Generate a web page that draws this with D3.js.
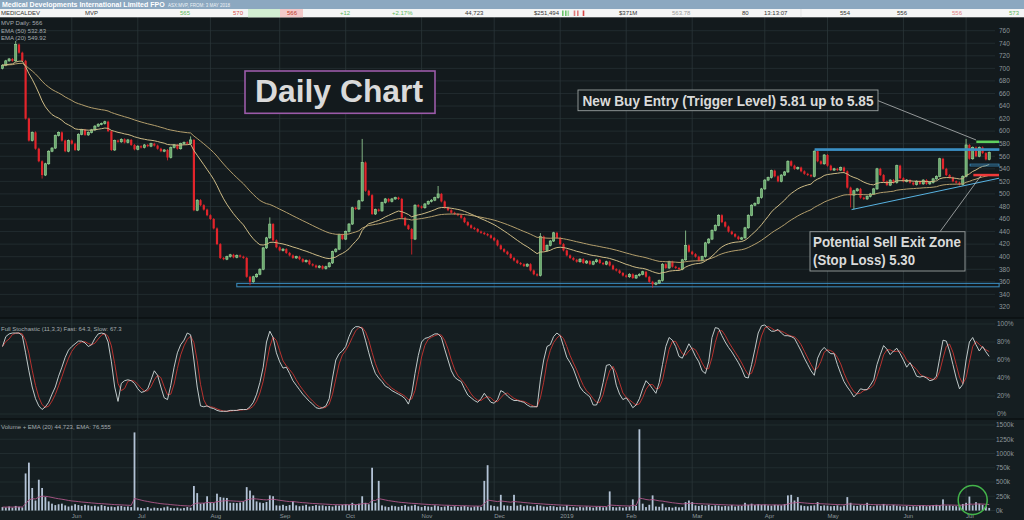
<!DOCTYPE html>
<html>
<head>
<meta charset="utf-8">
<script src="https://cdn.jsdelivr.net/npm/d3@7"></script>
<style>
  body { margin: 0; background: #131a1d; overflow: hidden; }
  svg { display: block; }
  text { font-family: "Liberation Sans", Arial, sans-serif; }
</style>
</head>
<body>
<div id="chart"></div>
<script>
// Daily closes (one per trading day, May 2018 - Jul 2019)
const closes = [
  705, 712, 715, 712, 738, 725, 712, 620, 585, 598,
  572, 552, 530, 548, 568, 573, 593, 598, 585, 568,
  585, 580, 570, 595, 602, 594, 598, 602, 608, 611,
  612, 615, 600, 570, 585, 583, 587, 582, 586, 578,
  571, 576, 574, 578, 576, 580, 577, 572, 568, 570,
  558, 574, 578, 572, 580, 582, 580, 586, 474, 490,
  482, 475, 466, 460, 445, 420, 398, 396, 400, 403,
  399, 402, 400, 398, 368, 360, 368, 372, 380, 414,
  430, 452, 426, 415, 410, 412, 406, 402, 398, 400,
  396, 392, 394, 388, 386, 383, 385, 381, 384, 390,
  408, 412, 435, 428, 440, 452, 478, 476, 489, 550,
  505, 498, 468, 475, 473, 486, 492, 488, 492, 494,
  492, 462, 450, 444, 428, 482, 480, 478, 484, 488,
  490, 494, 500, 488, 478, 474, 470, 468, 466, 462,
  455, 450, 446, 444, 440, 438, 436, 434, 430, 426,
  418, 412, 408, 404, 398, 394, 390, 388, 385, 388,
  378, 372, 370, 432, 410, 418, 425, 438, 430, 420,
  410, 402, 398, 395, 392, 396, 390, 393, 388, 392,
  395, 390, 388, 392, 386, 380, 378, 374, 370, 368,
  372, 366, 370, 372, 376, 368, 360, 356, 358, 362,
  388, 382, 392, 384, 382, 380, 395, 418, 408, 404,
  400, 394, 400, 422, 428, 442, 450, 466, 455, 448,
  440, 436, 432, 428, 430, 446, 466, 482, 485, 494,
  508, 522, 526, 537, 528, 520, 530, 535, 552, 545,
  540, 542, 536, 532, 530, 528, 568, 552, 548, 562,
  545, 538, 540, 538, 542, 536, 510, 498, 505, 508,
  494, 492, 496, 500, 508, 540, 530, 520, 514, 522,
  518, 545, 525, 520, 522, 518, 515, 520, 516, 522,
  516, 518, 524, 528, 556, 540, 530, 526, 520, 518,
  515, 528, 578, 556, 574, 560, 574, 565, 555, 566
];
const firstOpen = 700;
// long wicks visible on the chart: [day index, price]
const highWicks = [[4, 742], [57, 590], [81, 461], [109, 586], [132, 511], [163, 436], [207, 440], [292, 586]];
const lowWicks = [[12, 526], [50, 555], [75, 356], [124, 405], [197, 352], [257, 480], [258, 477]];

// Full stochastic (11,3,3) fast line (%)
const stochFast = [
  75, 86, 89, 90, 90, 90, 87, 68, 48, 30,
  17, 9, 5, 8, 13, 22, 30, 42, 52, 63,
  71, 75, 78, 81, 81, 79, 75, 77, 84, 89,
  90, 89, 80, 58, 30, 14, 34, 37, 38, 37,
  34, 28, 24, 25, 28, 38, 48, 43, 30, 18,
  16, 32, 52, 68, 77, 82, 90, 88, 60, 30,
  9, 8, 9, 7, 6, 4, 3, 3, 3, 4,
  4, 4, 5, 5, 5, 8, 13, 22, 35, 52,
  80, 92, 85, 68, 58, 51, 52, 45, 37, 32,
  27, 22, 18, 14, 11, 7, 6, 7, 9, 17,
  40, 60, 67, 70, 75, 86, 94, 97, 97, 95,
  82, 68, 55, 45, 40, 36, 31, 29, 26, 24,
  22, 20, 17, 11, 22, 45, 65, 80, 84, 85,
  87, 89, 89, 85, 72, 60, 48, 41, 38, 36,
  28, 21, 18, 15, 13, 17, 23, 18, 13, 12,
  16, 26, 24, 20, 17, 15, 15, 14, 13, 10,
  8, 8, 8, 38, 60, 75, 77, 86, 90, 87,
  75, 63, 57, 50, 40, 30, 25, 22, 19, 10,
  10, 19, 35, 54, 55, 50, 32, 22, 16, 18,
  13, 7, 10, 17, 28, 37, 33, 28, 23, 35,
  55, 75, 85, 82, 75, 64, 62, 70, 78, 72,
  64, 58, 48, 45, 58, 85, 96, 95, 87, 80,
  74, 69, 63, 57, 50, 41, 40, 55, 72, 90,
  98, 99, 95, 92, 92, 94, 90, 87, 87, 86,
  84, 77, 70, 62, 55, 48, 43, 62, 70, 74,
  70, 67, 67, 55, 45, 36, 30, 25, 19, 23,
  28, 27, 27, 32, 38, 55, 66, 76, 72, 66,
  70, 73, 67, 60, 52, 57, 50, 42, 41, 42,
  40, 37, 38, 42, 62, 82, 81, 70, 55, 40,
  28, 33, 60, 80, 85, 77, 70, 75, 69, 64
];

// daily volume, thousands of shares
const volumes = [
  60, 55, 70, 50, 80, 65, 55, 650, 840, 395,
  175, 540, 395, 235, 160, 120, 95, 110, 120, 90,
  70, 85, 110, 95, 80, 100, 90, 75, 85, 70,
  95, 80, 65, 70, 60, 75, 80, 65, 70, 60,
  1370, 55, 45, 40, 60, 35, 50, 45, 40, 55,
  70, 45, 40, 50, 35, 45, 60, 50, 430, 305,
  120, 130, 250, 140, 130, 295, 235, 225, 220, 135,
  135, 130, 140, 160, 410, 350, 265, 160, 140, 130,
  150, 265, 250, 90, 85, 100, 80, 95, 160, 90,
  75, 85, 100, 70, 80, 95, 85, 90, 75, 80,
  70, 90, 85, 100, 110, 95, 135, 100, 120, 250,
  135, 110, 750, 135, 520, 90, 70, 60, 85, 75,
  65, 80, 95, 70, 85, 100, 75, 60, 80, 70,
  65, 90, 75, 60, 70, 85, 65, 75, 60, 70,
  80, 65, 55, 70, 75, 60, 520, 795, 90, 80,
  70, 275, 90, 85, 80, 275, 85, 100, 75, 90,
  80, 70, 95, 85, 70, 65, 80, 75, 60, 70,
  65, 90, 55, 60, 50, 65, 55, 70, 60, 50,
  65, 70, 55, 60, 335, 60, 55, 65, 50, 60,
  70, 195, 80, 1425, 120, 60, 100, 265, 70, 65,
  120, 55, 60, 50, 65, 55, 60, 147, 175, 147,
  90, 80, 95, 85, 100, 75, 90, 85, 70, 80,
  75, 95, 70, 85, 80, 135, 100, 120, 95, 110,
  100, 105, 90, 85, 100, 95, 90, 110, 265, 275,
  175, 235, 90, 80, 75, 85, 90, 147, 80, 90,
  85, 75, 80, 90, 70, 85, 235, 135, 85, 80,
  95, 90, 135, 80, 75, 90, 85, 115, 90, 80,
  100, 85, 75, 70, 80, 65, 75, 70, 85, 90,
  75, 80, 95, 100, 90, 195, 85, 90, 80, 75,
  95, 115, 135, 245, 90, 147, 120, 100, 75, 45
];

// first trading day of each month, and its label
const monthStarts = [21, 41, 63, 84, 104, 127, 149, 169, 189, 209, 231, 250, 273, 292];
const monthLabels = ["Jun", "Jul", "Aug", "Sep", "Oct", "Nov", "Dec", "2019", "Feb", "Mar", "Apr", "May", "Jun", "Jul"];

const priceTicks = d3.range(320, 761, 20);
const stochTicks = [0, 20, 40, 60, 80, 100];
const volumeTicks = [0, 250, 500, 750, 1000, 1250, 1500];

// trading levels drawn by the analyst
const buyZone = [581, 585];
const stopZone = [528, 532];
const resistance = [569, 572];
const innerSupport = [544.5, 547.5];
const baseSupport = [352, 357.5];
const trendLine = [[257.3, 475], [302, 525]];

const W = 1024, H = 520;
const svg = d3.select("#chart").append("svg").attr("width", W).attr("height", H);

const x = d3.scaleLinear().domain([0, closes.length - 1]).range([2.5, 989.2]);
const yP = d3.scaleLinear().domain([320, 760]).range([306.9, 30.7]);
const yS = d3.scaleLinear().domain([0, 100]).range([414, 324]);
const yV = d3.scaleLinear().domain([0, 1500]).range([510.5, 425]);

const panels = { main: [17, 318], stoch: [318, 419], vol: [419, 520] };
const plotRight = 995;

// ---- derived series (what the charting package computes) ----
const hiMap = new Map(highWicks), loMap = new Map(lowWicks);
const candles = closes.map((c, i) => {
  const o = i === 0 ? firstOpen : closes[i - 1];
  return { i, o, c, h: hiMap.get(i) ?? Math.max(o, c), l: loMap.get(i) ?? Math.min(o, c) };
});

function ema(vals, n) {
  const k = 2 / (n + 1);
  let e = vals[0];
  return vals.map((v, i) => i === 0 ? e : (e = v * k + e * (1 - k)));
}
const sma = (a, n) => a.map((v, i) => d3.mean(a.slice(Math.max(0, i - n + 1), i + 1)));

const ema20 = ema(closes, 20);
const ema50 = ema(closes, 50);
const volEma = ema(volumes, 20);
const stochSlow = sma(stochFast, 3);

// ---- backgrounds ----
svg.append("rect").attr("x", 0).attr("y", panels.main[0]).attr("width", W)
  .attr("height", panels.main[1] - panels.main[0]).attr("fill", "#131a1d");
svg.append("rect").attr("x", 0).attr("y", panels.stoch[0]).attr("width", W)
  .attr("height", H - panels.stoch[0]).attr("fill", "#151e21");
[panels.stoch[0], panels.vol[0]].forEach(y => {
  svg.append("line").attr("x1", 0).attr("x2", W).attr("y1", y).attr("y2", y)
    .attr("stroke", "#0b1012").attr("stroke-width", 1.5);
});

const defs = svg.append("defs");
Object.entries(panels).forEach(([k, [t, b]]) => {
  defs.append("clipPath").attr("id", "clip-" + k)
    .append("rect").attr("x", 0).attr("y", t).attr("width", plotRight + 5).attr("height", b - t);
});

// ---- grid ----
const grid = svg.append("g").attr("stroke", "#253033").attr("stroke-width", 0.8);
grid.selectAll("line.p").data(priceTicks).enter().append("line")
  .attr("x1", 0).attr("x2", plotRight).attr("y1", d => yP(d)).attr("y2", d => yP(d));
grid.selectAll("line.s").data(stochTicks).enter().append("line")
  .attr("x1", 0).attr("x2", plotRight).attr("y1", d => yS(d)).attr("y2", d => yS(d));
grid.selectAll("line.v").data(volumeTicks).enter().append("line")
  .attr("x1", 0).attr("x2", plotRight).attr("y1", d => yV(d)).attr("y2", d => yV(d));
grid.selectAll("line.m").data(monthStarts).enter().append("line")
  .attr("stroke", "#2b3639")
  .attr("x1", d => x(d)).attr("x2", d => x(d)).attr("y1", panels.main[0]).attr("y2", 511);

// ---- axes labels ----
const axisColor = "#8d979b";
const axisR = svg.append("g").attr("fill", axisColor).attr("font-size", 6.5);
axisR.selectAll("text.p").data(priceTicks).enter().append("text")
  .attr("x", 999).attr("y", d => yP(d) + 2.3).text(d => d);
axisR.selectAll("text.s").data(stochTicks).enter().append("text")
  .attr("x", 997).attr("y", d => yS(d) + 2.3).text(d => d + "%");
axisR.selectAll("text.v").data(volumeTicks).enter().append("text")
  .attr("x", 996).attr("y", d => yV(d) + 2.3).text(d => d + "k");

svg.append("g").attr("fill", axisColor).attr("font-size", 6)
  .selectAll("text").data(monthStarts).enter().append("text")
  .attr("x", d => x(d)).attr("y", 518).text((d, i) => monthLabels[i]);

// ---- price panel ----
const main = svg.append("g").attr("clip-path", "url(#clip-main)");

// base support box
main.append("rect")
  .attr("x", x(71)).attr("y", yP(baseSupport[1]))
  .attr("width", x(302) - x(71)).attr("height", yP(baseSupport[0]) - yP(baseSupport[1]))
  .attr("fill", "none").attr("stroke", "#3b8fc3").attr("stroke-width", 1);

// candles
const up = "#9ad89a", down = "#e3242b";
const cg = main.append("g");
cg.selectAll("line").data(candles).enter().append("line")
  .attr("x1", d => x(d.i)).attr("x2", d => x(d.i))
  .attr("y1", d => yP(d.h) - 1).attr("y2", d => yP(d.l) + 1)
  .attr("stroke", d => d.c >= d.o ? up : down).attr("stroke-width", 0.8);
cg.selectAll("rect").data(candles).enter().append("rect")
  .attr("x", d => x(d.i) - 1.1).attr("width", 2.2)
  .attr("y", d => yP(Math.max(d.o, d.c)))
  .attr("height", d => Math.max(1, yP(Math.min(d.o, d.c)) - yP(Math.max(d.o, d.c))))
  .attr("fill", d => d.c >= d.o ? "#6aa86e" : down)
  .attr("stroke", d => d.c >= d.o ? up : "none").attr("stroke-width", 0.6);

// EMAs
const line = d3.line().x((d, i) => x(i)).y(d => yP(d));
main.append("path").datum(ema50).attr("d", line).attr("fill", "none")
  .attr("stroke", "#b39e6c").attr("stroke-width", 1);
main.append("path").datum(ema20).attr("d", line).attr("fill", "none")
  .attr("stroke", "#cdbb86").attr("stroke-width", 1);

// analyst levels
const levelRect = (range, i0, fill, stroke) => main.append("rect")
  .attr("x", x(i0)).attr("y", yP(range[1]))
  .attr("width", plotRight + 4 - x(i0)).attr("height", yP(range[0]) - yP(range[1]))
  .attr("fill", fill).attr("stroke", stroke).attr("stroke-width", 0.8);
levelRect(resistance, 246.2, "#3b8fc3", "#3b8fc3");
levelRect(innerSupport, 293.2, "none", "#3b8fc3");
levelRect(buyZone, 295.1, "#5fcf5f", "none");
levelRect(stopZone, 294.2, "#f03a3a", "none");
main.append("line")
  .attr("x1", x(trendLine[0][0])).attr("y1", yP(trendLine[0][1]))
  .attr("x2", x(trendLine[1][0])).attr("y2", yP(trendLine[1][1]))
  .attr("stroke", "#58b3e2").attr("stroke-width", 1);

// callout boxes
function callout(bx, by, bw, bh, lines, size, stroke, sw) {
  const g = svg.append("g");
  g.append("rect").attr("x", bx).attr("y", by).attr("width", bw).attr("height", bh)
    .attr("fill", "#131a1d").attr("stroke", stroke).attr("stroke-width", sw);
  lines.forEach(t => {
    g.append("text").attr("x", t.x).attr("y", t.y)
      .attr("font-family", "Lato, 'Open Sans', sans-serif").attr("font-weight", 700)
      .attr("font-size", size).attr("fill", "#dadada")
      .attr("textLength", t.len).attr("lengthAdjust", "spacingAndGlyphs").text(t.s);
  });
}
// leader lines
svg.append("line").attr("x1", 878).attr("y1", 100.7).attr("x2", x(295)).attr("y2", yP(586))
  .attr("stroke", "#c8cccc").attr("stroke-width", 0.7);
svg.append("line").attr("x1", 940).attr("y1", 231.7).attr("x2", x(296.5)).attr("y2", yP(529))
  .attr("stroke", "#c8cccc").attr("stroke-width", 0.7);

callout(245, 71, 190, 42.3, [{ s: "Daily Chart", x: 255, y: 102, len: 168 }], 32, "#9b5aa9", 1.6);
callout(578, 90, 300, 20.7, [{ s: "New Buy Entry (Trigger Level) 5.81 up to 5.85", x: 582.5, y: 106, len: 291 }], 15.5, "#9aa0a0", 0.9);
callout(810, 231.7, 155, 39.3, [
  { s: "Potential Sell Exit Zone", x: 813, y: 246.7, len: 148 },
  { s: "(Stop Loss) 5.30", x: 813, y: 265, len: 102 }
], 15.5, "#9aa0a0", 0.9);

// ---- stochastic ----
const st = svg.append("g").attr("clip-path", "url(#clip-stoch)");
const sLine = d3.line().x((d, i) => x(i)).y(d => yS(d));
st.append("path").datum(stochSlow).attr("d", sLine).attr("fill", "none")
  .attr("stroke", "#b7322f").attr("stroke-width", 1);
st.append("path").datum(stochFast).attr("d", sLine).attr("fill", "none")
  .attr("stroke", "#d3dbdb").attr("stroke-width", 0.9);

// ---- volume ----
const vg = svg.append("g").attr("clip-path", "url(#clip-vol)");
vg.selectAll("rect").data(volumes).enter().append("rect")
  .attr("x", (d, i) => x(i) - 0.9).attr("width", 1.8)
  .attr("y", d => yV(d)).attr("height", d => yV(0) - yV(d))
  .attr("fill", "#b3c3d6");
vg.append("path").datum(volEma)
  .attr("d", d3.line().x((d, i) => x(i)).y(d => yV(d)))
  .attr("fill", "none").attr("stroke", "#b0588a").attr("stroke-width", 0.9);
svg.append("circle").attr("cx", x(294)).attr("cy", 500).attr("r", 14.5)
  .attr("fill", "none").attr("stroke", "#43b34a").attr("stroke-width", 1.5);

// ---- panel legends ----
const leg = svg.append("g").attr("fill", "#a4abae").attr("font-size", 6);
leg.append("text").attr("x", 1).attr("y", 25.3).text("MVP Daily: 566");
leg.append("text").attr("x", 1).attr("y", 32.8).text("EMA (50) 532.83");
leg.append("text").attr("x", 1).attr("y", 40.3).text("EMA (20) 549.92");
leg.append("text").attr("x", 1).attr("y", 330.8).text("Full Stochastic (11,3,3) Fast: 64.3, Slow: 67.3");
leg.append("text").attr("x", 1).attr("y", 429.4).text("Volume + EMA (20) 44,723, EMA: 76,555");

// ---- header ----
svg.append("rect").attr("x", 0).attr("y", 0).attr("width", W).attr("height", 9).attr("fill", "#8ca8c0");
svg.append("text").attr("x", 2).attr("y", 7).attr("font-size", 7).attr("font-weight", 700)
  .attr("fill", "#ffffff").text("Medical Developments International Limited FPO");
svg.append("text").attr("x", 168).attr("y", 6.8).attr("font-size", 4.5)
  .attr("fill", "#eef3f7").text("ASX:MVP, FROM: 3 MAY 2018");

svg.append("rect").attr("x", 0).attr("y", 9).attr("width", W).attr("height", 8.3).attr("fill", "#f4f5f5");
svg.append("rect").attr("x", 248).attr("y", 9).attr("width", 32).attr("height", 8.3).attr("fill", "#d2eed2");
svg.append("rect").attr("x", 280).attr("y", 9).attr("width", 23).attr("height", 8.3).attr("fill", "#f3c9c9");
const quote = [
  [1, "MEDICALDEV", "#333"], [85, "MVP", "#333"], [180, "565", "#5cb85c"], [233, "570", "#d9534f"],
  [287, "566", "#c0392b"], [340, "+12", "#5cb85c"], [392, "+2.17%", "#5cb85c"], [465, "44,723", "#333"],
  [534, "$251,494", "#333"], [619, "$371M", "#333"], [672, "563.78", "#9a9a9a"], [742, "80", "#333"],
  [764, "13:13:07", "#333"], [840, "554", "#333"], [897, "556", "#333"], [952, "556", "#e07f85"],
  [1009, "573", "#5cb85c"]
];
svg.append("g").attr("font-size", 6).selectAll("text").data(quote).enter().append("text")
  .attr("x", d => d[0]).attr("y", 15.3).attr("fill", d => d[2]).text(d => d[1]);
const miniBars = [[562, "#6cc56c"], [565, "#6cc56c"], [567.5, "#9bd89b"], [573.7, "#e07a7a"], [577, "#e07a7a"], [582.7, "#d64545"]];
svg.append("g").selectAll("rect").data(miniBars).enter().append("rect")
  .attr("x", d => d[0]).attr("y", 10.5).attr("width", 1.6).attr("height", 5.5).attr("fill", d => d[1]);
svg.append("line").attr("x1", 801).attr("x2", 801).attr("y1", 9).attr("y2", 17.3)
  .attr("stroke", "#d8d8d8").attr("stroke-width", 0.6);
</script>
</body>
</html>
